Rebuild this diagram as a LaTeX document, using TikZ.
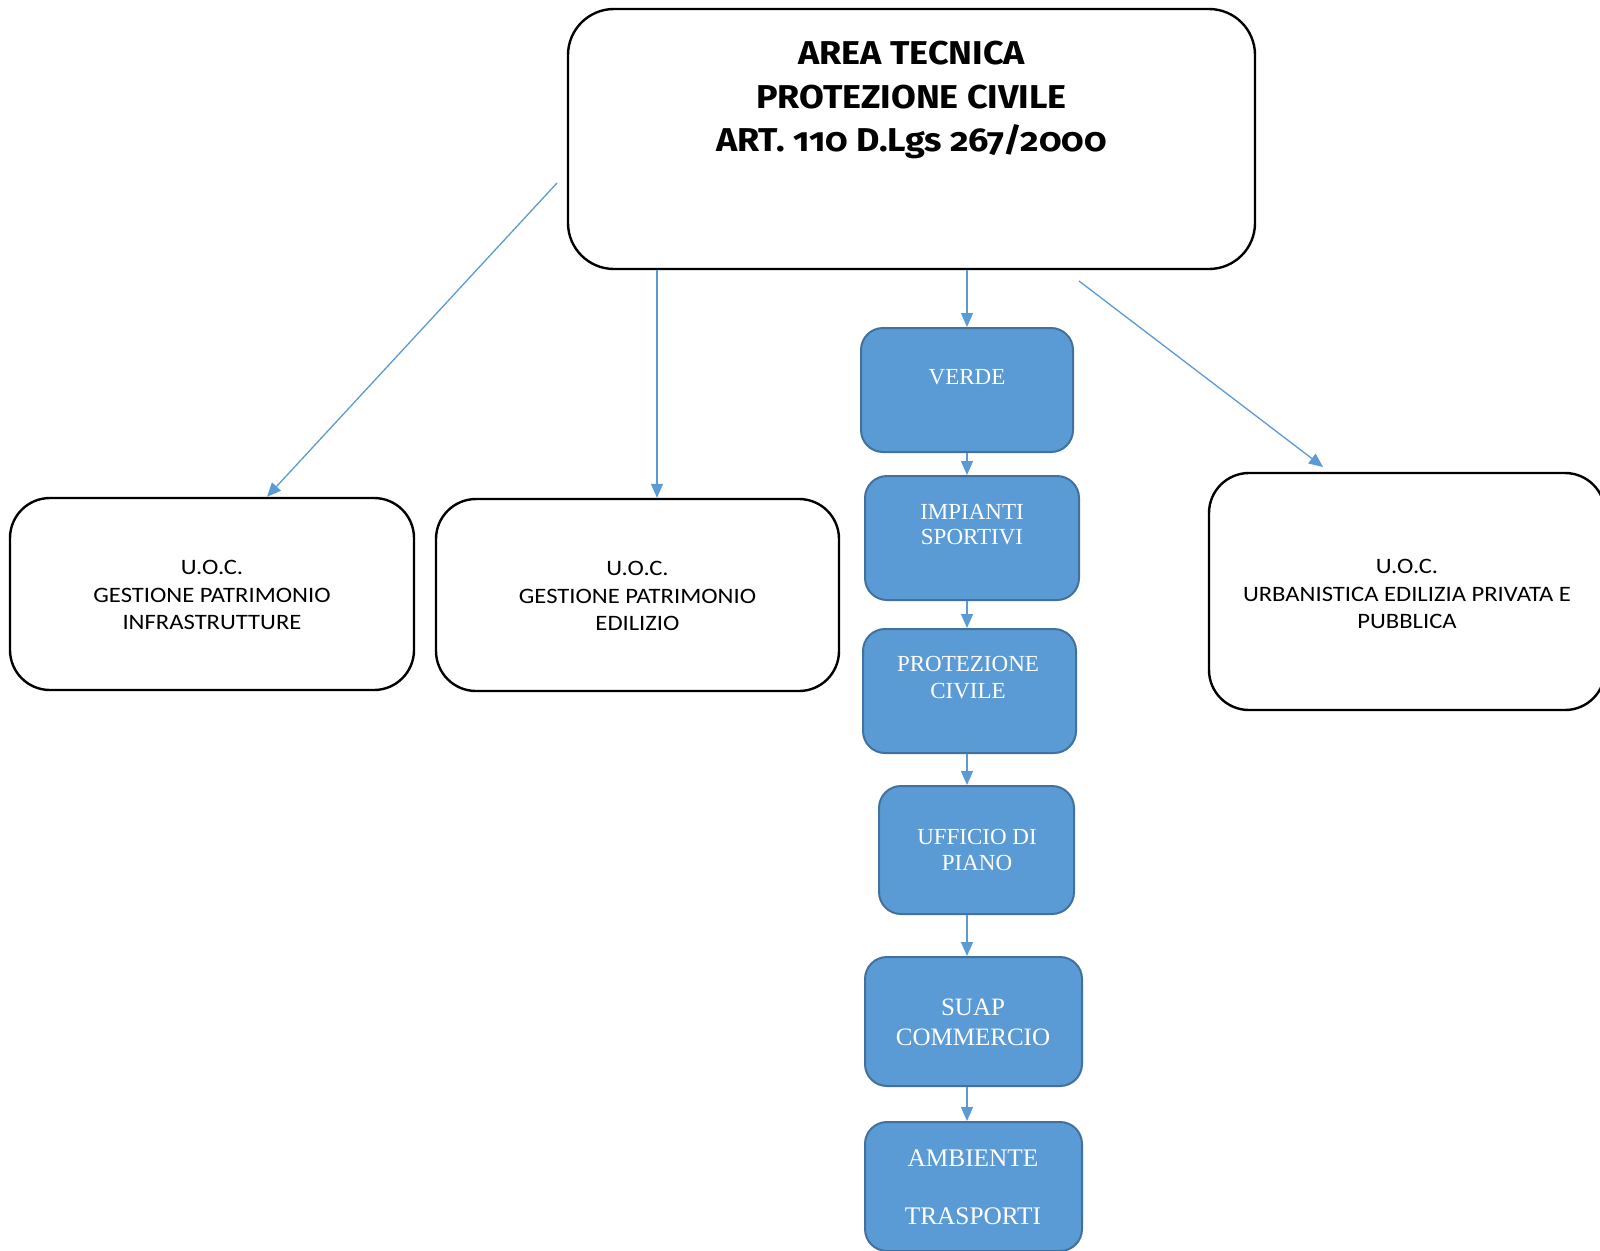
\documentclass[tikz,border=0pt]{standalone}
\usepackage{fontspec}
\setmainfont{Carlito}
\newfontfamily\sidefont[FakeStretch=1.12]{Carlito}
\newfontfamily\titlefont[Numbers=OldStyle,FakeStretch=1.09]{Fira Sans}
\newfontfamily\serifface{Liberation Serif}
\usetikzlibrary{arrows.meta}
\definecolor{bluefill}{HTML}{5B9BD5}
\definecolor{blueedge}{HTML}{41719C}
\definecolor{arrowblue}{HTML}{5B9BD5}
\begin{document}
\begin{tikzpicture}[x=1pt,y=-1pt,
  blackbox/.style={draw=black, line width=2.4pt, rounded corners=40pt, inner sep=0pt, fill=white},
  bluebox/.style={draw=blueedge, fill=bluefill, line width=2pt, rounded corners=22pt, inner sep=0pt},
  bluetext/.style={text=white, font=\serifface\fontsize{23}{26}\selectfont, align=center, inner sep=0pt},
  sidetext/.style={font=\sidefont\fontsize{22}{27.5}\selectfont, align=center, inner sep=0pt},
  titletext/.style={font=\titlefont\bfseries\fontsize{33}{43.5}\selectfont, align=center, inner sep=0pt},
  link/.style={draw=arrowblue, line width=1.3pt, -{Triangle[length=14pt,width=12pt]}}]
\useasboundingbox (0,0) rectangle (1600,1250);
\fill[white] (0,0) rectangle (1600,1250);

% main boxes
\node[blackbox, rounded corners=46pt, minimum width=687pt, minimum height=260pt] (top) at (911.5,139) {};
\node[titletext] (toptext) at (911.5,100) {AREA TECNICA\\PROTEZIONE CIVILE\\ART. 110 D.Lgs 267/2000};

\node[blackbox, minimum width=404pt, minimum height=192pt] (box1) at (212,594) {};
\node[sidetext] (box1text) at (212,595) {U.O.C.\\GESTIONE PATRIMONIO\\INFRASTRUTTURE};

\node[blackbox, minimum width=403pt, minimum height=192pt] (box2) at (637.5,595) {};
\node[sidetext] (box2text) at (637.5,596) {U.O.C.\\GESTIONE PATRIMONIO\\EDILIZIO};

\node[blackbox, minimum width=396pt, minimum height=237pt] (box3) at (1407,591.5) {};
\node[sidetext] (box3text) at (1407,594) {U.O.C.\\URBANISTICA EDILIZIA PRIVATA E\\PUBBLICA};

% blue column
\node[bluebox, minimum width=212pt, minimum height=124pt] (verde) at (967,390) {};
\node[bluetext] (verdetext) at (967,377) {VERDE};

\node[bluebox, minimum width=214pt, minimum height=124pt] (imp) at (972,538) {};
\node[bluetext, font=\serifface\fontsize{23}{25}\selectfont] (imptext) at (972,525) {IMPIANTI\\SPORTIVI};

\node[bluebox, minimum width=213pt, minimum height=124pt] (prot) at (969.5,691) {};
\node[bluetext, font=\serifface\fontsize{23}{27}\selectfont] (prottext) at (968,678) {PROTEZIONE\\CIVILE};

\node[bluebox, minimum width=195pt, minimum height=128pt] (uff) at (976.5,850) {};
\node[bluetext] (ufftext) at (977,850) {UFFICIO DI\\PIANO};

\node[bluebox, minimum width=217pt, minimum height=129pt] (suap) at (973.5,1021.5) {};
\node[bluetext, font=\serifface\fontsize{25}{30}\selectfont] (suaptext) at (973,1022) {SUAP\\COMMERCIO};

\node[bluebox, minimum width=217pt, minimum height=129pt] (amb) at (973.5,1186.5) {};
\node[bluetext, font=\serifface\fontsize{25.3}{29}\selectfont] (ambtext) at (973,1187) {AMBIENTE\\[0pt]\\TRASPORTI};

% connectors
\coordinate (s1) at (557,183);
\coordinate (e1) at (267,0);
\coordinate (e2) at (657,0);
\coordinate (s4) at (1079,281);
\coordinate (e4) at (1323,467);
\coordinate (col) at (967,0);

\draw[link] (s1) -- (e1 |- box1.north);
\draw[link] (e2 |- top.south) -- (e2 |- box2.north);
\draw[link] (col |- top.south) -- (col |- verde.north);
\draw[link] (s4) -- (e4);
\draw[link] (col |- verde.south) -- (col |- imp.north);
\draw[link] (col |- imp.south) -- (col |- prot.north);
\draw[link] (col |- prot.south) -- (col |- uff.north);
\draw[link] (col |- uff.south) -- (col |- suap.north);
\draw[link] (col |- suap.south) -- (col |- amb.north);
\end{tikzpicture}
\end{document}
